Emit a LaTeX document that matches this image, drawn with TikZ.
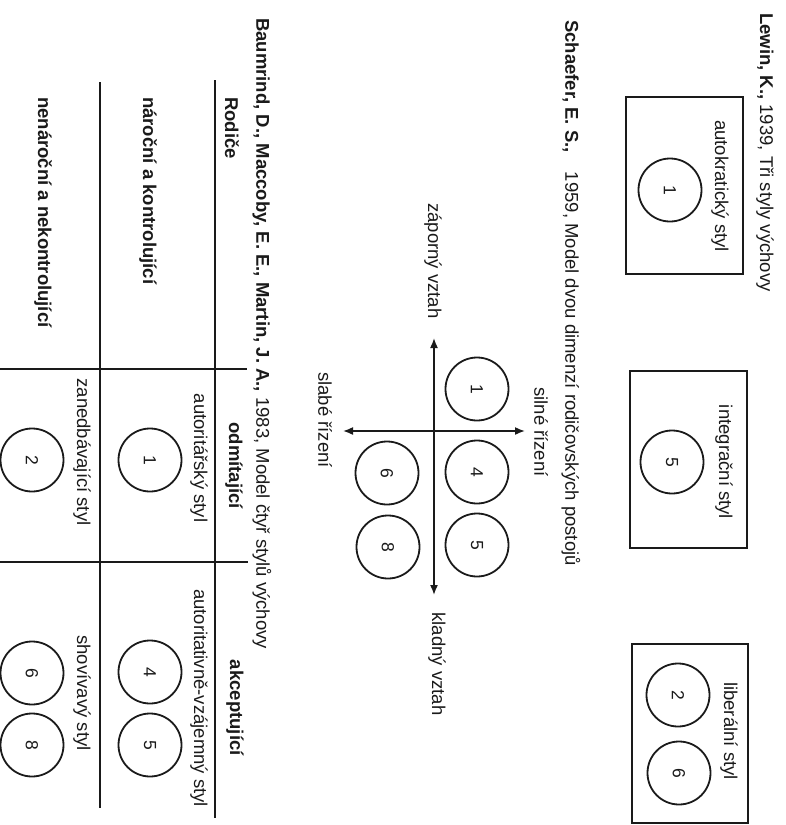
\documentclass[tikz,border=0pt]{standalone}
\usepackage{fontspec}
\setmainfont{Liberation Sans}
\usetikzlibrary{arrows.meta}
\definecolor{ink}{HTML}{1A1A1A}
\tikzset{
  txt/.style={rotate=-90, inner sep=0pt, font=\fontsize{18.5}{22}\selectfont, text=ink},
  txtstart/.style={txt, anchor=west},
  num/.style={circle, draw=ink, line width=1.8pt, minimum size=63pt, inner sep=0pt, rotate=-90, font=\fontsize{17.5}{20}\selectfont, text=ink},
  frame/.style={draw=ink, line width=2pt, inner sep=0pt},
  axisline/.style={draw=ink, line width=1.6pt, {Latex[length=10pt,width=8pt]}-{Latex[length=10pt,width=8pt]}},
  tabrule/.style={draw=ink, line width=2pt},
}
\begin{document}
\begin{tikzpicture}[x=1pt, y=-1pt]
\useasboundingbox[fill=white] (0,0) rectangle (785,825);

% ---------- Lewin ----------
\node[txtstart] (lewin) at (765,13) {\textbf{Lewin, K.,} 1939, Tři styly výchovy};
\node[frame, minimum width=117pt, minimum height=177pt] (box1) at (684.5,185.5) {};
\node[txt] (l1) at (720,186) {autokratický styl};
\node[num] (c1a) at (670,190) {1};

\node[frame, minimum width=117pt, minimum height=177pt] (box2) at (688.5,459.5) {};
\node[txt] (l2) at (724,462) {integrační styl};
\node[num] (c5a) at (672,462) {5};

\node[frame, minimum width=116pt, minimum height=179pt] (box3) at (690,733.5) {};
\node[txt] (l3) at (729,731) {liberální styl};
\node[num] (c2a) at (678,695) {2};
\node[num] (c6a) at (679,773) {6};

% ---------- Schaefer ----------
\node[txtstart] (schaefer) at (571,20) {\textbf{Schaefer, E. S.,}\hspace{14pt} 1959, Model dvou dimenzí rodičovských postojů};
\coordinate (ytop) at (434,338);
\coordinate (ybot) at (434,595);
\coordinate (xleft) at (343,431);
\coordinate (xright) at (525,431);
\draw[axisline] (ytop) -- (ybot);
\draw[axisline] (xleft) -- (xright);
\node[txt] (zap) at (433,261) {záporný vztah};
\node[txt] (kla) at (437,664) {kladný vztah};
\node[txt] (sil) at (541,432) {silné řízení};
\node[txt] (sla) at (325,420) {slabé řízení};
\node[num] (c1b) at (477,389) {1};
\node[num] (c4b) at (477,472) {4};
\node[num] (c5b) at (477,545) {5};
\node[num] (c6b) at (387,473) {6};
\node[num] (c8b) at (388,547) {8};

% ---------- Baumrind ----------
\node[txtstart] (baum) at (262,18) {\textbf{Baumrind, D., Maccoby, E. E., Martin, J. A.,} 1983, Model čtyř stylů výchovy};
\node[txtstart] (rod) at (232,97) {\textbf{Rodiče}};
\node[txtstart] (nar) at (148,97) {\textbf{nároční a kontrolující}};
\node[txtstart] (nen) at (43,97) {\textbf{nenároční a nekontrolující}};

\coordinate (r1a) at (215,80);  \coordinate (r1b) at (215,818);
\coordinate (r2a) at (100,82);  \coordinate (r2b) at (100,808);
\coordinate (s1a) at (0,369);   \coordinate (s1b) at (247,369);
\coordinate (s2a) at (0,562);   \coordinate (s2b) at (248,562);
\draw[tabrule] (r1a) -- (r1b);
\draw[tabrule] (r2a) -- (r2b);
\draw[tabrule] (s1a) -- (s1b);
\draw[tabrule] (s2a) -- (s2b);

\node[txt] (odm) at (234,466) {\textbf{odmítající}};
\node[txt] (akc) at (235,708) {\textbf{akceptující}};
\node[txt] (aut1) at (199,458) {autoritářský styl};
\node[txt] (zan) at (82,452) {zanedbávající styl};
\node[txt] (aut2) at (199,698) {autoritativně-vzájemný styl};
\node[txt] (sho) at (82,693) {shovívavý styl};
\node[num] (c1c) at (150,460) {1};
\node[num] (c2c) at (32,460) {2};
\node[num] (c4c) at (150,672) {4};
\node[num] (c5c) at (150,745) {5};
\node[num] (c6c) at (32,673) {6};
\node[num] (c8c) at (32,745) {8};
\end{tikzpicture}
\end{document}
